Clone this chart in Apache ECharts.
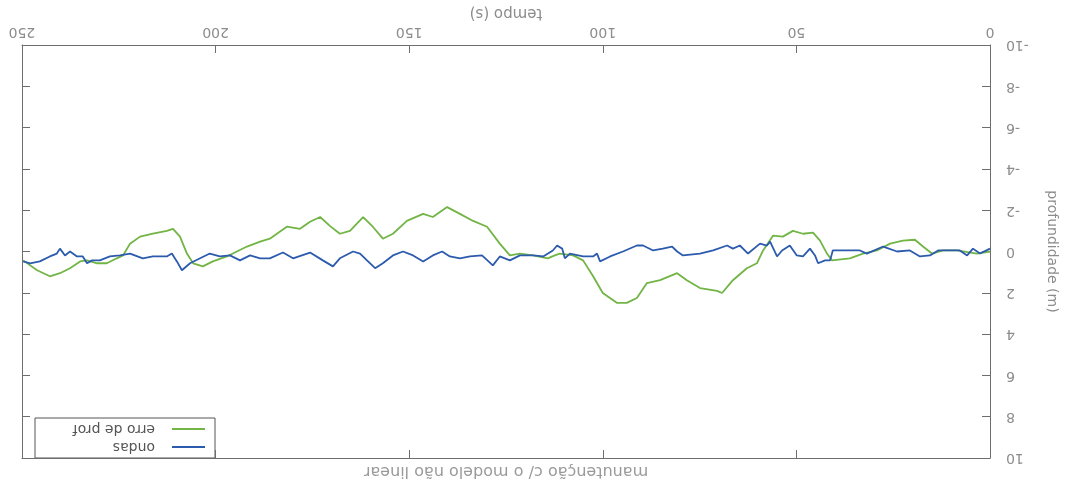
<!DOCTYPE html>
<html>
<head>
<meta charset="utf-8">
<script src="https://cdn.jsdelivr.net/npm/echarts@6/dist/echarts.min.js"></script>
<style>
html,body{margin:0;padding:0;background:#fff;}
#chart{width:1078px;height:490px;}
</style>
</head>
<body>
<div id="chart"></div>
<script>
// ---- data (time in s, value in m) ----
const seriesNames = ['erro de prof', 'ondas'];
const titleText = 'manutenção c/ o modelo não linear';
const xName = 'tempo (s)';
const yName = 'profundidade (m)';

const greenT = [0,3.4,8.5,12.1,15.0,17.3,19.4,22.5,25.8,29.2,32.8,36.2,40.8,42.1,43.9,45.7,48.3,50.9,53.5,56.0,58.6,60.2,62.8,66.4,69.2,70.5,74.9,78.3,80.8,85.2,88.6,91.2,93.8,96.3,100.0,102.5,105.1,107.7,111.1,112.4,114.2,118.0,121.4,124.0,126.6,129.9,133.5,136.9,140.2,143.9,146.4,150.6,154.2,156.8,159.4,161.9,165.3,167.9,170.5,173.0,175.6,178.2,181.6,186.0,188.5,191.9,194.5,197.1,200.7,203.3,205.8,207.4,209.2,211.0,212.6,216.2,219.5,222.1,223.9,225.5,228.1,230.6,233.2,235.0,237.6,240.2,242.8,246.1,249.7];
const greenV = [0,0.10,-0.05,-0.05,0.10,-0.24,-0.57,-0.53,-0.38,-0.05,0.10,0.33,0.43,0.10,-0.53,-0.91,-0.86,-1.00,-0.72,-0.77,-0.05,0.57,0.81,1.39,2.01,1.91,1.77,1.39,1.05,1.39,1.53,2.25,2.49,2.49,2.01,1.20,0.43,0.19,0.10,0.19,0.33,0.19,0.10,0.19,-0.38,-1.20,-1.48,-1.82,-2.15,-1.67,-1.82,-1.48,-0.86,-0.62,-1.20,-1.67,-1.00,-0.86,-1.24,-1.67,-1.44,-1.10,-1.20,-0.62,-0.48,-0.24,0,0.24,0.48,0.72,0.57,0.10,-0.72,-1.10,-1.00,-0.86,-0.72,-0.38,0.19,0.33,0.57,0.57,0.43,0.48,0.81,1.05,1.20,0.91,0.43];

const blueT = [0,2.6,4.4,5.9,7.8,10.3,13.4,15.5,18.1,20.7,24.0,27.6,31.8,33.6,36.2,40.6,41.3,42.6,44.4,45.2,46.5,48.3,49.9,51.7,53.7,55.0,56.8,57.6,59.4,62.5,64.6,66.4,67.9,71.5,74.9,79.3,80.8,82.1,84.5,87.0,89.6,91.2,94.8,98.1,100.7,101.5,102.5,105.1,108.5,109.8,110.5,111.8,112.9,115.4,118.0,121.4,124.0,126.6,128.4,131.2,134.3,136.9,139.5,141.5,143.9,146.4,149.0,151.6,154.2,156.8,158.8,160.9,162.7,164.5,167.9,169.7,172.3,175.6,180.0,182.6,186.0,188.5,191.1,193.7,196.3,198.9,201.5,204.0,206.6,208.7,210.0,211.3,212.6,216.2,218.8,222.1,224.7,227.3,229.9,231.9,233.2,234.3,235.8,237.6,238.9,240.2,241.0,242.8,245.4,247.9,249.7];
const blueV = [-0.14,0.10,-0.14,0.19,-0.05,-0.05,-0.05,0.19,0.24,-0.05,0,-0.24,0.10,-0.05,-0.05,-0.05,0.43,0.43,0.57,0.19,-0.14,0.24,0.19,-0.29,-0.05,0.24,-0.48,-0.29,-0.38,0.10,-0.29,-0.14,-0.29,-0.05,0.10,0.19,0,-0.24,-0.14,-0.05,-0.29,-0.29,0,0.24,0.48,0.10,0.24,0.24,0.10,0.33,-0.14,-0.29,-0.05,0.24,0.19,0.19,0.43,0.24,0.67,0.19,0.24,0.33,0.24,0,0.19,0.48,0.19,0,0.19,0.57,0.81,0.43,0.10,0,0.33,0.72,0.43,0.05,0.33,0.05,0.33,0.33,0.19,0.43,0.19,0.24,0.10,0.33,0.57,0.91,0.48,0.10,0.24,0.24,0.33,0.10,0.19,0.24,0.43,0.43,0.57,0.24,0.24,0,0.19,-0.14,0.10,0.24,0.48,0.57,0.48];

const greenColor = '#72b445';
const blueColor = '#2c5bad';
const axisColor = '#6e6e6e';
const labelColor = '#8c8c8c';

const pairs = (t, v) => t.map((x, i) => [x, v[i]]);

const chart = echarts.init(document.getElementById('chart'));
const common = {
  type: 'value', inverse: true, splitLine: {show: false},
  axisLine: {onZero: false, lineStyle: {color: axisColor, width: 1}},
  axisTick: {inside: true, length: 8, lineStyle: {color: axisColor}}
};
chart.setOption({
  animation: false,
  backgroundColor: '#ffffff',
  grid: {left: 22, right: 88, top: 38, bottom: 32, containLabel: false},
  xAxis: [
    Object.assign({}, common, {
      position: 'top', min: 0, max: 250, interval: 50,
      name: xName, nameLocation: 'middle', nameGap: 25, nameRotate: 180,
      nameTextStyle: {color: labelColor, fontSize: 15, fontFamily: 'DejaVu Sans'},
      axisLabel: {rotate: 180, margin: 6, color: labelColor, fontSize: 14, fontFamily: 'DejaVu Sans'}
    }),
    Object.assign({}, common, {
      position: 'bottom', min: 0, max: 250, interval: 50, axisLabel: {show: false}
    })
  ],
  yAxis: [
    Object.assign({}, common, {
      position: 'right', min: -10, max: 10, interval: 2,
      name: yName, nameLocation: 'middle', nameGap: 55, nameRotate: -90,
      nameTextStyle: {color: labelColor, fontSize: 14, fontFamily: 'DejaVu Sans'},
      axisLabel: {rotate: 180, margin: 16, color: labelColor, fontSize: 14, fontFamily: 'DejaVu Sans'}
    }),
    Object.assign({}, common, {
      position: 'left', min: -10, max: 10, interval: 2, axisLabel: {show: false}
    })
  ],
  series: [
    {name: seriesNames[0], type: 'line', xAxisIndex: 0, yAxisIndex: 0, showSymbol: false,
     data: pairs(greenT, greenV), lineStyle: {color: greenColor, width: 1.8}, itemStyle: {color: greenColor}},
    {name: seriesNames[1], type: 'line', xAxisIndex: 0, yAxisIndex: 0, showSymbol: false,
     data: pairs(blueT, blueV), lineStyle: {color: blueColor, width: 1.8}, itemStyle: {color: blueColor}}
  ],
  graphic: [
    {type: 'text', x: 506, y: 471, rotation: Math.PI,
     style: {text: titleText, align: 'center', verticalAlign: 'middle', fill: '#9a9a9a', font: '16px "DejaVu Sans"'}},
    {type: 'rect', shape: {x: 35, y: 418, width: 180, height: 40},
     style: {fill: '#fff', stroke: '#555', lineWidth: 1}},
    {type: 'line', shape: {x1: 172, y1: 429, x2: 205, y2: 429}, style: {stroke: greenColor, lineWidth: 1.8}},
    {type: 'line', shape: {x1: 172, y1: 447, x2: 205, y2: 447}, style: {stroke: blueColor, lineWidth: 1.8}},
    {type: 'text', x: 155, y: 429, rotation: Math.PI,
     style: {text: seriesNames[0], align: 'left', verticalAlign: 'middle', fill: '#555', font: '14px "DejaVu Sans"'}},
    {type: 'text', x: 155, y: 447, rotation: Math.PI,
     style: {text: seriesNames[1], align: 'left', verticalAlign: 'middle', fill: '#555', font: '14px "DejaVu Sans"'}}
  ]
});
</script>
</body>
</html>
